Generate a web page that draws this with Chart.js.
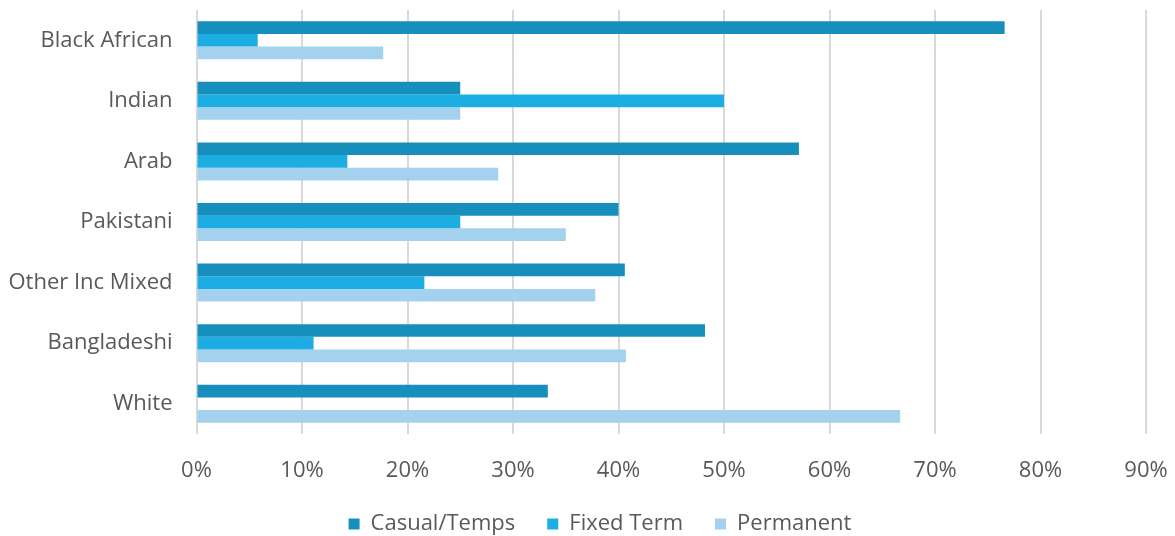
<!DOCTYPE html>
<html>
<head>
<meta charset="utf-8">
<script src="https://cdn.jsdelivr.net/npm/chart.js@4/dist/chart.umd.min.js"></script>
<style>
  html, body { margin: 0; padding: 0; background: #fff; }
  #wrap { width: 1175px; height: 536px; }
</style>
</head>
<body>
<div id="wrap"><canvas id="myChart" width="1175" height="536"></canvas></div>
<script>
// groups, top to bottom
var groups = ['Black African', 'Indian', 'Arab', 'Pakistani', 'Other Inc Mixed', 'Bangladeshi', 'White'];

// share of each group (%)
var casualTemps = [76.6, 25.0, 57.1, 40.0, 40.6, 48.2, 33.3];
var fixedTerm   = [5.8, 50.0, 14.3, 25.0, 21.6, 11.1, 0];
var permanent   = [17.7, 25.0, 28.6, 35.0, 37.8, 40.7, 66.7];

var xTicks = [0, 10, 20, 30, 40, 50, 60, 70, 80, 90];

// excel centres the legend a bit right of the canvas centre
var legendNudge = {
  id: 'legendNudge',
  afterLayout: function(chart) {
    if (chart.legend) {
      chart.legend.left += 27;
      chart.legend.right += 27;
    }
  }
};

var ctx = document.getElementById('myChart').getContext('2d');
var chart = new Chart(ctx, {
  type: 'bar',
  data: {
    labels: groups,
    datasets: [{
      label: 'Casual/Temps',
      backgroundColor: '#178fbd',
      data: casualTemps
    }, {
      label: 'Fixed Term',
      backgroundColor: '#1eade3',
      data: fixedTerm
    }, {
      label: 'Permanent',
      backgroundColor: '#a3d1ee',
      data: permanent
    }]
  },
  plugins: [legendNudge],
  options: {
    indexAxis: 'y',
    responsive: false,
    animation: false,
    // negative bottom pushes the legend down to where Excel put it
    layout: { padding: { top: 10, left: 0, right: 29, bottom: -9 } },
    datasets: {
      bar: { barPercentage: 1, categoryPercentage: 0.627 }
    },
    scales: {
      x: {
        min: 0,
        max: 90,
        afterBuildTicks: function(scale) {
          scale.ticks = xTicks.map(function(v) { return { value: v }; });
        },
        afterFit: function(scale) {
          scale.height = 47;
          scale.paddingLeft = 0;
          scale.paddingRight = 0;
        },
        ticks: {
          color: '#595959',
          font: { family: 'Open Sans', size: 22 },
          padding: 24,
          callback: function(v) { return v + '%'; }
        },
        grid: { color: '#d9d9d9', lineWidth: 2, drawTicks: false },
        border: { display: false }
      },
      y: {
        afterFit: function(scale) {
          scale.width = 196.5;
          scale.paddingTop = 0;
          scale.paddingBottom = 0;
        },
        ticks: {
          color: '#595959',
          font: { family: 'Open Sans', size: 22 },
          padding: 24
        },
        grid: { display: false, drawTicks: false },
        border: { display: false }
      }
    },
    plugins: {
      legend: {
        position: 'bottom',
        labels: {
          boxWidth: 11,
          boxHeight: 11,
          padding: 32,
          color: '#595959',
          font: { family: 'Open Sans', size: 22 }
        }
      },
      tooltip: { enabled: false }
    }
  }
});
</script>
</body>
</html>
